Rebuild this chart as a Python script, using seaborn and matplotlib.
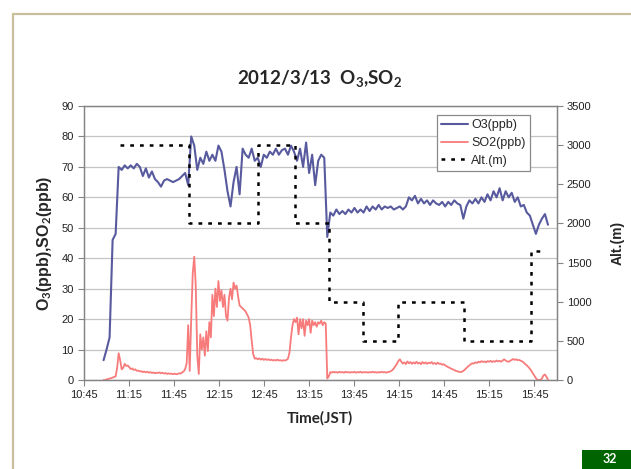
import numpy as np
import pandas as pd
import matplotlib
matplotlib.use("Agg")
import matplotlib.pyplot as plt
from matplotlib.lines import Line2D
from matplotlib.patches import Rectangle
import seaborn as sns

# ---------------- data ----------------
day = "2012-03-13 "
title = "2012/3/13  O$_\\mathbf{3}$,SO$_\\mathbf{2}$"
series_names = ["O3(ppb)", "SO2(ppb)", "Alt.(m)"]
xtick_labels = ["10:45", "11:15", "11:45", "12:15", "12:45", "13:15",
                "13:45", "14:15", "14:45", "15:15", "15:45"]
left_ticks = [0, 10, 20, 30, 40, 50, 60, 70, 80, 90]
right_ticks = [0, 500, 1000, 1500, 2000, 2500, 3000, 3500]

# O3, sampled about every 2 minutes from 10:58 to 15:54
o3_ppb = [
    6.5, 10, 14, 46, 48, 70, 69, 70.5, 69.5, 70.5,
    69.5, 71, 70, 67, 69.5, 66.5, 68.5, 66, 65, 63.5,
    65.5, 66, 65.5, 65, 65.5, 66, 67, 68, 64, 80,
    77, 69, 73, 71, 75, 72, 74, 72, 77, 75,
    69, 62, 57, 65, 70, 61, 76, 74, 73, 76,
    72, 73, 70, 74, 73, 75, 74, 76, 74, 75.5,
    76, 74, 77, 75, 72, 76, 70, 78, 68, 74,
    64, 72, 74, 73, 47, 55, 54, 56, 54.5, 55.5,
    54.5, 56, 55, 56.5, 55, 56, 55, 57, 55.5, 57,
    56, 57.5, 56, 57, 56.5, 57, 56, 56.5, 57, 56,
    57, 60, 59, 60.5, 58, 59.5, 58, 59, 57.5, 59,
    58, 57.5, 58.5, 57, 58.5, 57.5, 59, 58, 57.5, 53,
    57, 59, 58, 59.5, 58, 60, 58.5, 61, 59, 62,
    60, 63, 59, 62, 60, 61.5, 58.5, 60, 57, 57.5,
    55, 54, 51, 48, 51, 53, 54.5, 51,
]

# SO2, sampled about every minute from 10:58 to 15:54
so2_ppb = [
    0, 0, 0.2, 0.3, 0.5, 0.6, 0.8, 1.0, 1.2, 4,
    8.8, 6.5, 3.5, 4, 5.3, 4.6, 4.8, 4.2, 3.6, 3.8,
    3.3, 3.5, 3.0, 3.1, 2.8, 2.9, 2.6, 2.8, 2.5, 2.7,
    2.4, 2.6, 2.3, 2.5, 2.2, 2.4, 2.3, 2.5, 2.2, 2.4,
    2.1, 2.3, 2.0, 2.2, 2.0, 2.1, 1.9, 2.1, 1.9, 2.0,
    2.2, 2.1, 2.5, 2.8, 3.6, 5.5, 18, 3, 20, 35,
    40.5, 31, 8, 2, 15, 10, 14, 8, 16, 9.5,
    19, 14, 28, 21, 30, 24, 32.5, 26, 29.5, 24,
    28, 21, 19.5, 27, 30, 26.5, 32, 30, 31, 27.5,
    24.5, 24, 23.5, 23, 22.5, 21.5, 20.5, 18, 13, 8.5,
    7, 7.2, 6.8, 7.1, 6.7, 7, 6.6, 6.9, 6.6, 6.8,
    6.5, 6.7, 6.4, 6.6, 6.4, 6.7, 6.4, 6.5, 6.3, 6.5,
    6.4, 6.6, 7.0, 9, 14, 18, 20, 19, 20.5, 15,
    20, 17, 20, 14.5, 19.5, 18, 20, 15.5, 19.5, 18,
    19, 17.5, 19, 18.5, 19.5, 18, 19, 18.5, 0.5, 1.2,
    2.6, 2.4, 2.7, 2.5, 2.6, 2.4, 2.7, 2.5, 2.6, 2.4,
    2.7, 2.5, 2.6, 2.4, 2.6, 2.5, 2.7, 2.4, 2.6, 2.5,
    2.7, 2.4, 2.6, 2.5, 2.6, 2.4, 2.6, 2.5, 2.7, 2.5,
    2.6, 2.4, 2.6, 2.5, 2.7, 2.5, 2.6, 2.4, 2.6, 2.7,
    2.9, 3.2, 3.8, 4.5, 5.3, 6.2, 6.8, 6.0, 5.4, 5.8,
    5.2, 6.1, 5.5, 5.9, 5.3, 5.8, 5.4, 6.0, 5.4, 5.7,
    5.2, 5.9, 5.4, 5.8, 5.3, 5.7, 5.5, 5.9, 5.3, 5.6,
    5.2, 5.7, 5.3, 5.4, 5.0, 5.2, 4.8, 4.5, 4.2, 4.0,
    3.7, 3.5, 3.3, 3.0, 2.9, 2.7, 2.6, 2.7, 3.0, 3.4,
    3.9, 4.4, 4.8, 5.2, 5.5, 5.4, 5.8, 5.6, 6.0, 5.8,
    6.2, 5.9, 6.1, 5.8, 6.2, 6.0, 6.3, 5.9, 6.2, 6.0,
    6.4, 6.1, 6.3, 6.0, 6.4, 6.8, 6.4, 6.1, 6.0, 6.3,
    6.6, 6.9, 6.6, 6.8, 6.5, 6.6, 6.3, 6.1, 5.7, 5.2,
    4.8, 4.3, 3.7, 3.0, 2.2, 1.4, 0.6, 0.1, 0, 0,
    0.5, 1.5, 1.8, 1.0, 0.2,
]

# flight altitude (step profile)
alt_time = ["11:09", "11:55", "11:55", "12:41", "12:41", "13:06", "13:06",
            "13:28", "13:28", "13:51", "13:51", "14:14", "14:14", "14:58",
            "14:58", "15:43", "15:43", "15:51"]
alt_m = [3000, 3000, 2000, 2000, 3000, 3000, 2000,
         2000, 1000, 1000, 500, 500, 1000, 1000,
         500, 500, 1650, 1650]

# ---------------- build frames ----------------
o3_time = pd.date_range(day + "10:58:20", day + "15:54:00", periods=len(o3_ppb))
so2_time = pd.date_range(day + "10:58:20", day + "15:54:00", periods=len(so2_ppb))
df_o3 = pd.DataFrame({"time": o3_time, "value": o3_ppb})
df_so2 = pd.DataFrame({"time": so2_time, "value": so2_ppb})
df_alt = pd.DataFrame({"time": pd.to_datetime([day + t for t in alt_time]),
                       "value": alt_m})

# ---------------- style ----------------
sns.set_theme(style="white")
plt.rcParams["font.family"] = ["Liberation Sans", "DejaVu Sans"]
plt.rcParams["mathtext.fontset"] = "custom"
plt.rcParams["mathtext.rm"] = "Lato"
plt.rcParams["mathtext.bf"] = "Lato:bold"

O3_COLOR = "#585A9E"
SO2_COLOR = "#F77B7B"
SPINE = "#858585"
W, H = 631, 469

fig = plt.figure(figsize=(W / 100, H / 100), dpi=100)
fig.patch.set_facecolor("white")
L, R, T, B = 83.5, 557, 106, 380
ax = fig.add_axes([L / W, 1 - B / H, (R - L) / W, (B - T) / H])
ax2 = ax.twinx()

sns.lineplot(data=df_o3, x="time", y="value", ax=ax, color=O3_COLOR,
             linewidth=1.5, estimator=None, sort=False, legend=False)
sns.lineplot(data=df_so2, x="time", y="value", ax=ax, color=SO2_COLOR,
             linewidth=1.3, estimator=None, sort=False, legend=False)
sns.lineplot(data=df_alt, x="time", y="value", ax=ax2, color="black",
             linewidth=1.8, estimator=None, sort=False, legend=False)
ax2.lines[0].set_dashes([1.5, 2.4])

# axes ranges & ticks
ax.set_xlim(pd.Timestamp(day + "10:45"), pd.Timestamp(day + "16:00"))
ax.set_xticks(pd.to_datetime([day + t for t in xtick_labels]))
ax.set_xticklabels(xtick_labels)
ax.set_ylim(0, 90)
ax.set_yticks(left_ticks)
ax2.set_ylim(0, 3500)
ax2.set_yticks(right_ticks)

ax.yaxis.grid(True, color="#C4C4C4", linewidth=0.9)
ax.xaxis.grid(False)
ax.set_axisbelow(True)

for a in (ax, ax2):
    for s in a.spines.values():
        s.set_color(SPINE)
        s.set_linewidth(0.9)
ax.tick_params(axis="both", which="major", direction="out", length=4,
               width=0.8, color=SPINE, labelsize=8, labelcolor="#222222",
               bottom=True, left=True, pad=3)
ax2.tick_params(axis="y", direction="out", length=4, width=0.8, color=SPINE,
                labelsize=8, labelcolor="#222222", right=True, pad=3)

# labels
ax.set_xlabel("Time(JST)", fontfamily="Lato", fontweight="bold", fontsize=11)
ax.xaxis.set_label_coords(0.5, -(411 - B) / (B - T))
ax.set_ylabel("O$_\\mathbf{3}$(ppb),SO$_\\mathbf{2}$(ppb)", fontweight="bold",
              fontsize=11.5)
ax.yaxis.set_label_coords((54 - L) / (R - L), 0.5)
ax2.set_ylabel("Alt.(m)", fontweight="bold", fontsize=10)
ax2.yaxis.set_label_coords((611 - L) / (R - L), 0.5)

fig.text(320 / W, 1 - 79 / H, title, ha="center", va="center",
         fontfamily="Lato", fontweight="bold", fontsize=13.5)

# legend
handles = [ax.lines[0], ax.lines[1], ax2.lines[0]]
leg = ax2.legend(handles, series_names, loc="upper right",
                 bbox_to_anchor=((530 - L) / (R - L), 1 - (115 - T) / (B - T)),
                 fontsize=9, frameon=True, fancybox=False, framealpha=1,
                 edgecolor="#8A8A8A", borderpad=0.35, labelspacing=0.45,
                 handlelength=2.1, handletextpad=0.3, borderaxespad=0)
leg.get_frame().set_linewidth(0.9)

# slide decorations
fig.add_artist(Line2D([13 / W, 1], [1 - 14 / H, 1 - 14 / H],
                      transform=fig.transFigure, color="#C9C09B", lw=1.6))
fig.add_artist(Line2D([13 / W, 13 / W], [0, 1 - 14 / H],
                      transform=fig.transFigure, color="#C9C09B", lw=1.6))
fig.add_artist(Rectangle((582 / W, 0), (W - 582) / W, (H - 450) / H,
                         transform=fig.transFigure, color="#006400", lw=0))
fig.text(610 / W, 1 - 459 / H, "32", color="white", fontweight="bold",
         fontsize=9, ha="center", va="center", fontfamily="Lato")

fig.savefig("out.png", dpi=100, facecolor="white")
